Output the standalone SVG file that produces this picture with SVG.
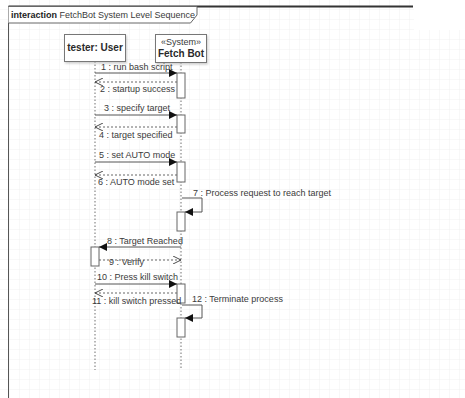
<svg xmlns="http://www.w3.org/2000/svg" width="465" height="398" viewBox="0 0 465 398">
  <defs>
    <pattern id="grid" width="10" height="10" patternUnits="userSpaceOnUse">
      <path d="M10 0 V10 M0 10 H10" fill="none" stroke="#f1f1f1" stroke-width="1"/>
    </pattern>
    <marker id="filled" viewBox="0 0 10 10" refX="10" refY="5" markerWidth="9" markerHeight="8" markerUnits="userSpaceOnUse" orient="auto">
      <path d="M0,0 L10,5 L0,10 Z" fill="#111"/>
    </marker>
    <marker id="open" viewBox="0 0 10 10" refX="10" refY="5" markerWidth="8" markerHeight="8" markerUnits="userSpaceOnUse" orient="auto">
      <path d="M0,0 L10,5 L0,10" fill="none" stroke="#444" stroke-width="1.2"/>
    </marker>
    <filter id="shadow" x="-10%" y="-10%" width="130%" height="140%">
      <feDropShadow dx="1" dy="1.5" stdDeviation="1" flood-color="#000" flood-opacity="0.2"/>
    </filter>
  </defs>
  <style>
    text { font-family: "Liberation Sans", Arial, sans-serif; fill: #3a3a3a; }
    .lbl { font-size: 9px; }
    .head { font-size: 10px; font-weight: bold; fill: #2a2a2a; }
    .stereo { font-size: 9px; }
    .box { fill: #fff; stroke: #777; stroke-width: 1; }
    .life { stroke: #999; stroke-width: 1.4; stroke-dasharray: 1.5 2; fill: none; }
    .act { fill: #fff; stroke: #666; stroke-width: 1; }
    .sync { stroke: #555; stroke-width: 1; fill: none; marker-end: url(#filled); }
    .reply { stroke: #666; stroke-width: 1; stroke-dasharray: 2 2; fill: none; marker-end: url(#open); }
  </style>

  <!-- background grid -->
  <rect width="465" height="398" fill="#fff"/>
  <rect width="465" height="398" fill="url(#grid)"/>
  <rect x="414" y="0" width="51" height="30" fill="#fff"/>

  <!-- interaction frame -->
  <g id="frame">
    <line x1="8.5" y1="6.5" x2="413" y2="6.5" stroke="#333" stroke-width="2"/>
    <line x1="8.5" y1="6" x2="8.5" y2="398" stroke="#555" stroke-width="1"/>
    <path d="M8.5,6.5 H197 V15 L190.5,23 H8.5" fill="#fff" stroke="#666" stroke-width="1"/>
    <text x="11" y="18" font-size="9px"><tspan font-weight="bold" fill="#222">interaction</tspan> FetchBot System Level Sequence</text>
  </g>

  <!-- lifelines -->
  <g id="user">
    <line class="life" x1="95" y1="61" x2="95" y2="370"/>
    <rect class="box" x="64.5" y="34.5" width="61" height="27" filter="url(#shadow)"/>
    <text class="head" x="95" y="51" text-anchor="middle">tester: User</text>
    <rect class="act" x="91" y="247" width="8" height="19"/>
  </g>

  <g id="fetchbot">
    <line class="life" x1="181" y1="62" x2="181" y2="370"/>
    <rect class="box" x="155.5" y="34.5" width="51" height="28" filter="url(#shadow)"/>
    <text class="stereo" x="181" y="45" text-anchor="middle">«System»</text>
    <text class="head" x="181" y="57" text-anchor="middle">Fetch Bot</text>
    <rect class="act" x="177" y="73" width="8" height="25"/>
    <rect class="act" x="177" y="115" width="8" height="18"/>
    <rect class="act" x="177" y="162" width="8" height="20"/>
    <rect class="act" x="177" y="212" width="8" height="19"/>
    <rect class="act" x="177" y="284" width="8" height="19"/>
    <rect class="act" x="177" y="318" width="8" height="19"/>
  </g>

  <!-- messages -->
  <g id="messages">
    <line class="sync" x1="95" y1="73" x2="177" y2="73"/>
    <text class="lbl" x="101" y="70">1 : run bash script</text>

    <line class="reply" x1="177" y1="82" x2="95" y2="82"/>
    <text class="lbl" x="100" y="92">2 : startup success</text>

    <line class="sync" x1="95" y1="115" x2="177" y2="115"/>
    <text class="lbl" x="104" y="111">3 : specify target</text>

    <line class="reply" x1="177" y1="127" x2="95" y2="127"/>
    <text class="lbl" x="99" y="138">4 : target specified</text>

    <line class="sync" x1="95" y1="162" x2="177" y2="162"/>
    <text class="lbl" x="99" y="158">5 : set AUTO mode</text>

    <line class="reply" x1="177" y1="175" x2="95" y2="175"/>
    <text class="lbl" x="98" y="185">6 : AUTO mode set</text>

    <path class="sync" d="M182,198 H202 V212 H185"/>
    <text class="lbl" x="193" y="196">7 : Process request to reach target</text>

    <line class="sync" x1="181" y1="247" x2="99" y2="247"/>
    <text class="lbl" x="107" y="244">8 : Target Reached</text>

    <line class="reply" x1="99" y1="260" x2="181" y2="260"/>
    <text class="lbl" x="109" y="265">9 : Verify</text>

    <line class="sync" x1="95" y1="284" x2="177" y2="284"/>
    <text class="lbl" x="97" y="280">10 : Press kill switch</text>

    <line class="reply" x1="177" y1="293" x2="95" y2="293"/>
    <text class="lbl" x="92" y="304">11 : kill switch pressed</text>

    <path class="sync" d="M182,305 H202 V318 H185"/>
    <text class="lbl" x="192" y="302">12 : Terminate process</text>
  </g>
</svg>
